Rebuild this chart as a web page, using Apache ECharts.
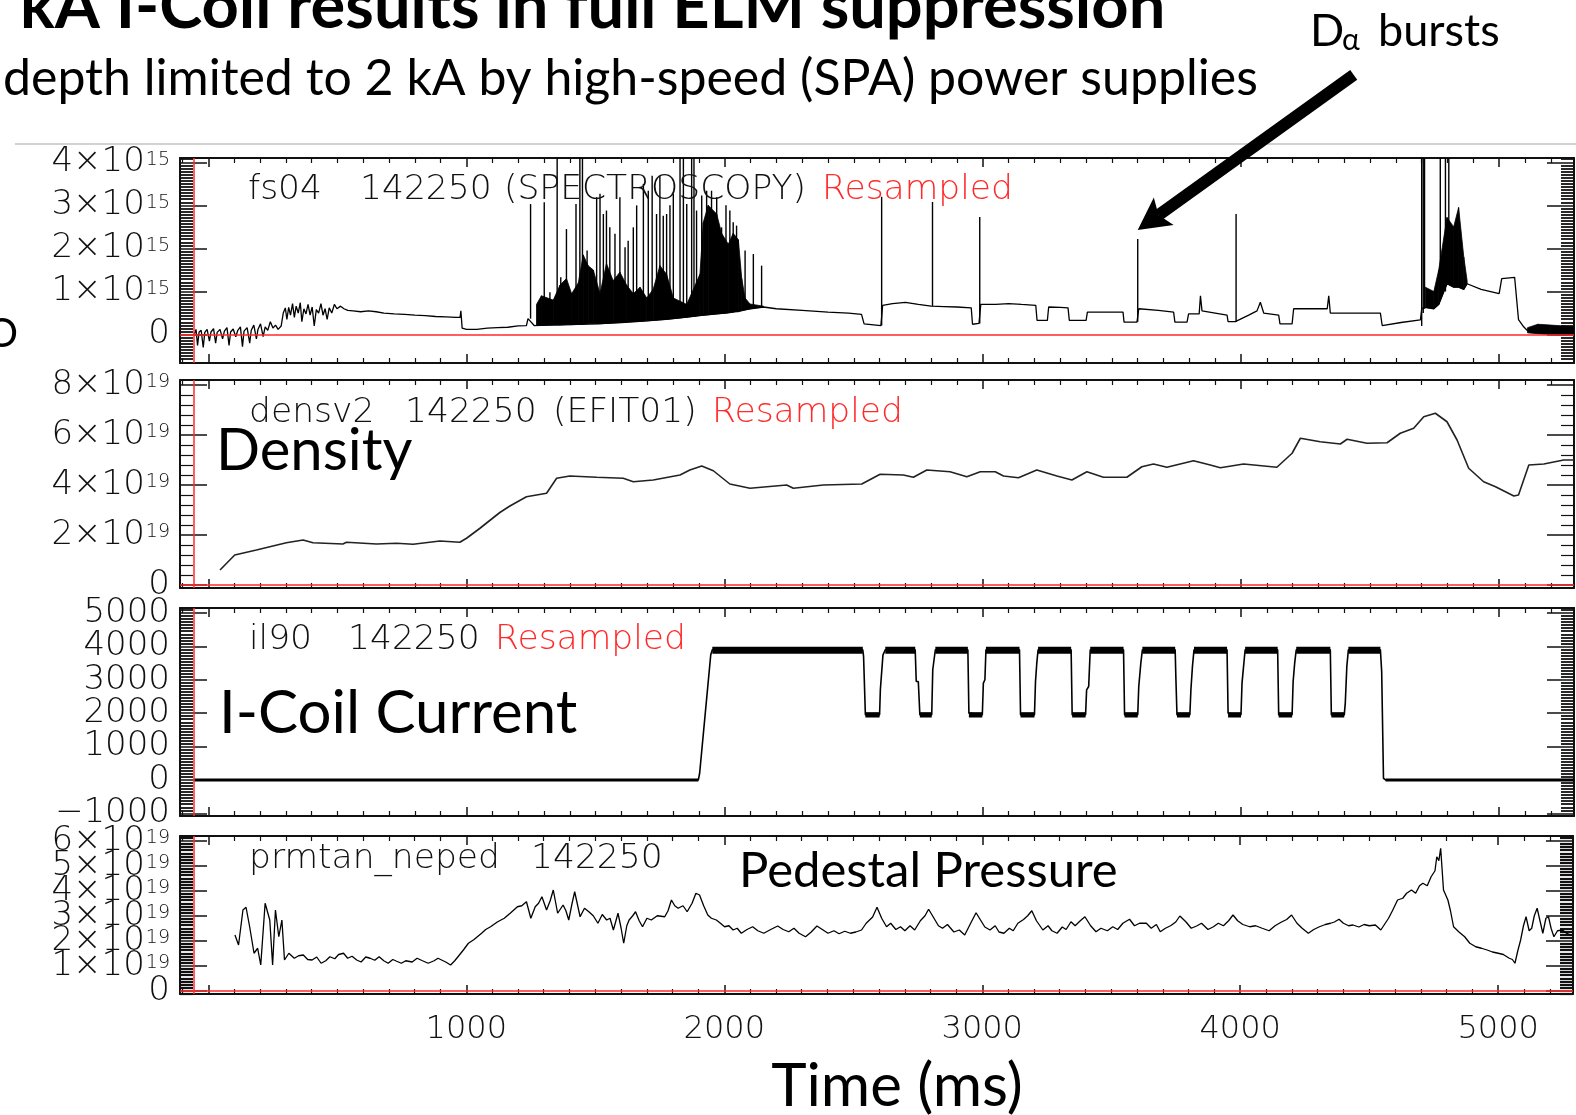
<!DOCTYPE html>
<html><head><meta charset="utf-8">
<script src="https://cdn.jsdelivr.net/npm/echarts@6/dist/echarts.min.js"></script>
<style>html,body{margin:0;padding:0;background:#fff}#c{width:1576px;height:1115px}</style>
</head><body><div id="c"></div><script>
// ---------------- DATA ----------------
const timeTicks = [1000, 2000, 3000, 4000, 5000];
const markerTime = -55;               // red vertical reference line
const arrowTarget = [3600, 2.22];     // D-alpha burst the arrow points to

// fs04 (D-alpha), units of 1e15
const daTicks = [0, 1, 2, 3, 4];
const daExp = 15;
const daTrace = [[-55,0.0],[-48,0.12],[-42,-0.25],[-36,0.06],[-28,0.1],[-20,-0.3],[-14,0.05],[-5,0.12],[4,-0.15],[10,0.06],[20,0.14],[28,-0.2],[34,0.05],[45,0.12],[55,-0.1],[62,0.08],[72,0.16],[80,-0.25],[86,0.06],[96,0.13],[106,-0.05],[114,0.1],[124,0.18],[132,-0.28],[138,0.08],[150,0.16],[160,-0.2],[166,0.1],[176,0.22],[186,-0.1],[192,0.12],[202,0.25],[212,-0.05],[220,0.18],[230,0.1],[240,0.3],[250,0.15],[260,0.22],[270,0.12],[282,0.2],[290,0.5],[298,0.62],[304,0.35],[311,0.63],[318,0.45],[326,0.72],[333,0.4],[340,0.66],[348,0.5],[356,0.74],[362,0.3],[370,0.6],[378,0.48],[386,0.7],[394,0.45],[402,0.64],[410,0.2],[418,0.58],[427,0.5],[436,0.72],[444,0.45],[452,0.6],[460,0.35],[468,0.62],[478,0.5],[488,0.7],[498,0.6],[512,0.66],[525,0.6],[540,0.56],[560,0.55],[590,0.53],[620,0.55],[650,0.53],[680,0.5],[720,0.48],[760,0.47],[800,0.45],[840,0.44],[880,0.42],[920,0.41],[960,0.4],[975,0.4],[978,0.55],[983,0.15],[1000,0.12],[1040,0.12],[1080,0.15],[1120,0.16],[1160,0.17],[1200,0.2],[1232,0.21],[1238,0.37],[1262,0.21],[1300,0.22],[1400,0.23],[1500,0.25],[1600,0.28],[1700,0.32],[1800,0.37],[1900,0.44],[2000,0.5],[2100,0.6],[2150,0.64],[2200,0.6],[2300,0.56],[2400,0.52],[2480,0.5],[2530,0.47],[2540,0.25],[2545,0.21],[2605,0.21],[2612,0.68],[2650,0.72],[2700,0.75],[2750,0.7],[2800,0.66],[2850,0.65],[2900,0.64],[2955,0.62],[2960,0.24],[2985,0.26],[2992,0.7],[3050,0.7],[3100,0.72],[3150,0.7],[3205,0.68],[3210,0.33],[3250,0.33],[3255,0.64],[3300,0.63],[3330,0.62],[3335,0.33],[3400,0.33],[3405,0.52],[3455,0.52],[3543,0.52],[3547,0.29],[3597,0.29],[3604,0.6],[3680,0.56],[3739,0.52],[3744,0.29],[3791,0.29],[3797,0.48],[3838,0.48],[3843,0.9],[3849,0.55],[3900,0.5],[3946,0.45],[3950,0.3],[3978,0.3],[3985,0.33],[4030,0.45],[4062,0.55],[4075,0.75],[4088,0.5],[4146,0.45],[4151,0.25],[4198,0.25],[4204,0.6],[4334,0.6],[4340,0.9],[4346,0.5],[4540,0.5],[4547,0.21],[4620,0.28],[4695,0.34],[4700,0.6],[4714,0.63],[4747,0.6],[4766,0.7],[4798,1.18],[4824,1.1],[4843,1.1],[4863,1.05],[4876,1.18],[4930,1.05],[5000,0.95],[5010,1.3],[5060,1.33],[5075,0.35],[5095,0.18],[5110,0.09],[5200,0.08],[5290,0.08]];
// individual bursts: [time, base, top]
const daSpikes = [[1248,0.37,3.03],[1301,0.22,3.07],[1323,0.22,0.98],[1351,0.22,4.5],[1365,0.22,1.33],[1387,0.23,2.45],[1411,0.23,0.95],[1424,0.24,3.03],[1439,0.24,4.5],[1449,0.24,4.5],[1467,0.25,1.95],[1504,0.25,3.19],[1517,0.25,3.27],[1530,0.26,2.8],[1542,0.26,2.88],[1555,0.27,2.49],[1575,0.27,2.34],[1594,0.28,3.19],[1614,0.29,2.03],[1626,0.29,2.18],[1646,0.3,2.49],[1659,0.3,3.0],[1685,0.31,3.5],[1704,0.32,3.34],[1719,0.33,3.69],[1736,0.33,2.8],[1749,0.34,3.69],[1762,0.35,2.76],[1775,0.35,2.8],[1788,0.36,3.0],[1801,0.37,3.27],[1827,0.38,4.5],[1840,0.39,4.5],[1853,0.4,3.03],[1872,0.42,4.5],[1881,0.42,4.5],[1891,0.43,2.88],[1911,0.45,3.23],[1930,0.46,3.34],[1949,0.47,3.34],[1969,0.48,3.19],[1988,0.49,2.49],[2005,0.5,3.0],[2020,0.5,2.88],[2033,0.52,2.61],[2046,0.53,2.53],[2079,0.57,1.95],[2111,0.6,1.87],[2143,0.64,1.6],[2608,0.21,3.2],[2805,0.66,3.08],[2988,0.26,2.73],[3600,0.3,2.22],[3981,0.3,2.8],[4700,0.2,4.5],[4706,0.5,4.5],[4711,0.6,4.5],[4772,0.8,4.5],[4792,1.0,4.5],[4805,1.2,4.5]];
// noise envelopes of dense ELM activity: [time, low, high]
const daEnvElm = [[1271,0.21,0.7],[1290,0.21,0.9],[1336,0.22,0.8],[1362,0.22,1.15],[1387,0.23,1.3],[1407,0.23,0.95],[1433,0.24,1.2],[1452,0.24,1.85],[1471,0.25,1.6],[1491,0.25,1.5],[1517,0.25,0.95],[1542,0.26,1.65],[1568,0.27,1.25],[1594,0.28,1.45],[1620,0.29,1.15],[1646,0.3,0.95],[1672,0.31,1.1],[1698,0.32,0.85],[1723,0.33,1.05],[1749,0.34,1.6],[1775,0.35,1.4],[1801,0.37,0.85],[1853,0.4,0.7],[1904,0.44,1.4],[1917,0.45,2.6],[1936,0.46,3.0],[1969,0.48,2.8],[1988,0.49,2.35],[2014,0.5,2.1],[2033,0.52,2.35],[2053,0.53,2.2],[2066,0.55,1.3],[2079,0.57,0.85],[2098,0.6,0.71],[2150,0.64,0.66]];
const daEnvLate = [[4714,0.63,1.1],[4747,0.6,1.0],[4766,0.7,1.5],[4798,1.18,2.72],[4824,1.1,2.5],[4843,1.1,2.95],[4863,1.05,1.8],[4876,1.18,1.25]];
const daEnvTail = [[5110,0.04,0.16],[5150,0.02,0.24],[5200,0.0,0.22],[5250,-0.02,0.2],[5290,0.0,0.18]];

// densv2, units of 1e19
const densTicks = [0, 2, 4, 6, 8];
const densExp = 19;
const densTrace = [[45,0.6],[102,1.2],[186,1.4],[302,1.69],[367,1.8],[405,1.69],[521,1.64],[535,1.71],[651,1.64],[729,1.67],[793,1.63],[897,1.76],[974,1.71],[1000,1.87],[1052,2.27],[1129,2.9],[1168,3.16],[1232,3.53],[1310,3.67],[1349,4.27],[1400,4.36],[1504,4.31],[1607,4.27],[1646,4.13],[1723,4.2],[1827,4.4],[1865,4.6],[1911,4.76],[1956,4.57],[2020,4.04],[2098,3.87],[2240,4.0],[2266,3.87],[2382,4.0],[2531,4.04],[2602,4.43],[2692,4.4],[2731,4.31],[2783,4.6],[2873,4.53],[2938,4.33],[2990,4.53],[3048,4.53],[3080,4.36],[3138,4.29],[3209,4.6],[3287,4.36],[3345,4.2],[3403,4.53],[3467,4.31],[3558,4.31],[3616,4.73],[3661,4.84],[3713,4.71],[3816,4.97],[3881,4.8],[3920,4.69],[4010,4.84],[4139,4.71],[4198,5.27],[4230,5.87],[4307,5.73],[4385,5.64],[4411,5.83],[4488,5.67],[4566,5.69],[4617,6.07],[4669,6.27],[4708,6.73],[4753,6.87],[4798,6.53],[4837,5.8],[4882,4.67],[4940,4.13],[4986,3.93],[5057,3.56],[5075,3.6],[5115,4.8],[5173,4.84],[5250,5.0],[5290,5.0]];

// il90 I-coil current (A)
const icoilTicks = [-1000, 0, 1000, 2000, 3000, 4000, 5000];
const icoilTrace = [[-55,0],[1898,0],[1903,200],[1946,3750],[1952,3900],[2535,3900],[2538,3700],[2545,1950],[2600,1950],[2603,2700],[2610,2700],[2613,3740],[2622,3900],[2738,3900],[2742,2950],[2750,2950],[2756,1950],[2802,1950],[2806,3300],[2812,3300],[2816,3900],[2942,3900],[2946,2000],[2998,1950],[3002,2900],[3008,3000],[3012,3900],[3142,3900],[3146,1950],[3200,1950],[3204,2950],[3209,3500],[3214,3900],[3342,3900],[3346,1950],[3398,1950],[3402,2700],[3410,2800],[3416,3900],[3545,3900],[3549,1950],[3600,1950],[3604,2800],[3612,3500],[3618,3900],[3745,3900],[3748,3000],[3752,1950],[3802,1950],[3806,2700],[3812,3400],[3818,3900],[3946,3900],[3950,2000],[4000,1950],[4004,2900],[4010,3400],[4016,3900],[4142,3900],[4146,1950],[4198,1950],[4202,2950],[4208,3500],[4214,3900],[4346,3900],[4350,1950],[4400,1950],[4404,2300],[4410,3400],[4416,3900],[4540,3900],[4545,3250],[4552,50],[4560,0],[5290,0]];
// noise band of flat parts: [start, end, low, high]
const icoilBand = [[-55,1898,-45,45],[1952,2535,3780,3990],[2545,2600,1870,2030],[2622,2738,3780,3990],[2756,2802,1870,2030],[2816,2942,3780,3990],[2946,2998,1870,2030],[3012,3142,3780,3990],[3146,3200,1870,2030],[3214,3342,3780,3990],[3346,3398,1870,2030],[3416,3545,3780,3990],[3549,3600,1870,2030],[3618,3745,3780,3990],[3752,3802,1870,2030],[3818,3946,3780,3990],[3950,4000,1870,2030],[4016,4142,3780,3990],[4146,4198,1870,2030],[4214,4346,3780,3990],[4350,4400,1870,2030],[4416,4540,3780,3990],[4560,5290,-45,45]];

// prmtan_neped, units of 1e19
const pedTicks = [0, 1, 2, 3, 4, 5, 6];
const pedExp = 19;
const pedTrace = [[103,2.23],[117,1.83],[134,3.23],[146,3.34],[160,2.56],[177,1.5],[191,1.7],[203,1.03],[220,3.5],[238,2.83],[249,1.03],[260,3.23],[273,2.16],[285,2.83],[295,1.23],[312,1.5],[333,1.3],[350,1.4],[368,1.43],[385,1.25],[402,1.23],[420,1.35],[437,1.1],[455,1.2],[471,1.36],[490,1.28],[505,1.45],[524,1.5],[540,1.3],[557,1.38],[575,1.23],[592,1.15],[610,1.35],[627,1.3],[645,1.22],[662,1.36],[680,1.2],[697,1.1],[715,1.25],[730,1.18],[748,1.1],[765,1.2],[790,1.15],[809,1.3],[830,1.2],[852,1.1],[875,1.2],[890,1.3],[904,1.23],[920,1.15],[939,1.03],[955,1.2],[973,1.43],[990,1.65],[1008,1.9],[1030,2.05],[1059,2.3],[1075,2.45],[1094,2.56],[1120,2.75],[1147,2.9],[1170,3.1],[1198,3.36],[1215,3.4],[1233,3.56],[1250,2.9],[1267,3.36],[1280,3.5],[1293,3.76],[1311,3.23],[1325,3.6],[1337,4.03],[1354,3.1],[1375,3.43],[1386,3.2],[1397,2.83],[1410,3.5],[1420,3.96],[1441,2.96],[1458,3.3],[1475,3.16],[1492,3.0],[1510,2.7],[1527,3.05],[1544,2.83],[1557,2.9],[1570,2.43],[1588,3.1],[1600,2.5],[1610,1.9],[1622,2.6],[1631,2.83],[1645,3.0],[1656,3.16],[1670,2.8],[1683,2.56],[1700,2.9],[1717,2.83],[1740,3.0],[1769,2.96],[1782,3.2],[1795,3.63],[1808,3.4],[1821,3.3],[1840,3.4],[1856,3.16],[1875,3.5],[1890,3.9],[1904,3.83],[1920,3.4],[1936,3.03],[1950,2.9],[1969,2.83],[1985,2.7],[2001,2.56],[2018,2.6],[2034,2.43],[2050,2.5],[2066,2.3],[2088,2.45],[2110,2.56],[2130,2.4],[2153,2.3],[2180,2.45],[2207,2.59],[2228,2.45],[2250,2.36],[2270,2.5],[2290,2.3],[2315,2.16],[2337,2.35],[2359,2.59],[2380,2.45],[2402,2.3],[2425,2.4],[2445,2.28],[2467,2.38],[2489,2.3],[2510,2.35],[2532,2.43],[2550,2.7],[2575,2.95],[2592,3.34],[2610,2.9],[2629,2.56],[2645,2.7],[2665,2.45],[2683,2.56],[2700,2.4],[2720,2.6],[2738,2.43],[2760,2.8],[2778,3.0],[2792,3.26],[2810,2.95],[2830,2.6],[2846,2.5],[2865,2.65],[2890,2.35],[2911,2.43],[2932,2.23],[2955,2.7],[2976,3.12],[2995,2.8],[3010,2.55],[3030,2.43],[3050,2.6],[3065,2.35],[3084,2.3],[3105,2.5],[3120,2.4],[3138,2.7],[3160,2.85],[3176,3.0],[3192,3.2],[3210,2.8],[3235,2.43],[3255,2.6],[3270,2.4],[3290,2.3],[3310,2.55],[3325,2.45],[3344,2.76],[3360,2.6],[3380,2.8],[3398,2.96],[3420,2.6],[3441,2.36],[3460,2.5],[3485,2.4],[3506,2.56],[3525,2.45],[3545,2.7],[3571,2.86],[3590,2.6],[3610,2.7],[3636,2.7],[3655,2.5],[3675,2.65],[3690,2.36],[3710,2.5],[3730,2.6],[3750,2.75],[3766,2.99],[3790,2.75],[3810,2.5],[3831,2.59],[3850,2.7],[3875,2.45],[3896,2.56],[3915,2.7],[3935,2.6],[3955,2.8],[3972,3.03],[3990,2.8],[4010,2.65],[4037,2.56],[4060,2.6],[4085,2.5],[4112,2.4],[4135,2.6],[4160,2.75],[4180,2.85],[4199,3.03],[4220,2.7],[4240,2.5],[4264,2.3],[4285,2.45],[4307,2.56],[4330,2.65],[4350,2.7],[4365,2.75],[4383,2.86],[4400,2.7],[4420,2.6],[4437,2.63],[4460,2.55],[4480,2.65],[4500,2.6],[4524,2.63],[4545,2.43],[4575,2.9],[4590,3.2],[4610,3.63],[4630,3.7],[4645,3.9],[4664,4.03],[4680,3.9],[4695,4.2],[4708,4.3],[4725,4.2],[4740,4.56],[4755,4.8],[4762,5.36],[4770,5.2],[4777,5.7],[4788,4.03],[4805,3.63],[4815,3.2],[4827,2.56],[4848,2.35],[4870,2.16],[4890,1.9],[4913,1.76],[4935,1.7],[4957,1.63],[4978,1.55],[5000,1.5],[5020,1.45],[5043,1.3],[5055,1.25],[5065,1.1],[5076,1.6],[5087,2.03],[5098,2.6],[5108,2.96],[5120,2.4],[5130,2.5],[5140,3.0],[5151,3.3],[5162,2.8],[5173,2.3],[5185,2.9],[5195,2.96],[5205,2.5],[5216,2.16],[5230,2.4],[5249,2.43],[5265,2.3],[5282,2.23]];

// ---------------- LAYOUT / STYLE ----------------
const IDL_FONT = 'DejaVu Sans';
const SLIDE_FONT = 'Lato';
const RED = '#ff2a2a';
const INK = '#111';
const X_MIN = -110, X_MAX = 5290;
const grids = [
  {left:180, right:2, top:158, height:205},
  {left:180, right:2, top:380, height:208},
  {left:180, right:2, top:608, height:208},
  {left:180, right:2, top:836, height:158}
];
const yRanges = [[-0.66,4.1],[-0.12,8.2],[-1080,5150],[-0.13,6.19]];
const ySplit = [5,4,6,6];
const yMinorSplit = [14,5,11,8];
const yMinorWidth = [1.8,1.2,1.8,2.2];

const richLbl = {
  m:{fontFamily:IDL_FONT, fontSize:34, lineHeight:24, color:INK, fontWeight:200},
  s:{fontFamily:IDL_FONT, fontSize:19, lineHeight:1, verticalAlign:'top', color:INK, fontWeight:200, padding:[0,0,0,1]}
};
function expFormatter(ticks, exp){
  return v => {
    if (!ticks.some(t => Math.abs(t - v) < 1e-9)) return '';
    if (Math.abs(v) < 1e-9) return '{m|0}';
    return '{m|' + Math.round(v) + '×10}{s|' + exp + '}';
  };
}
const yFormatters = [
  expFormatter(daTicks, daExp),
  expFormatter(densTicks, densExp),
  v => icoilTicks.includes(Math.round(v)) && Math.abs(v-Math.round(v))<1e-6 ? '{m|' + (v<0 ? '\u2212' + Math.abs(v) : v) + '}' : '',
  expFormatter(pedTicks, pedExp)
];

const xAxes = [], yAxes = [];
grids.forEach((g, i) => {
  ['bottom','top'].forEach(pos => {
    const showLbl = (i === 3 && pos === 'bottom');
    xAxes.push({
      type:'value', gridIndex:i, position:pos, min:X_MIN, max:X_MAX, splitNumber:5,
      axisLine:{show:true, onZero:false, lineStyle:{color:INK, width:2}},
      axisTick:{show:true, inside:true, length:9, lineStyle:{color:INK, width:1.5}},
      minorTick:{show:true, splitNumber:10, length:5, lineStyle:{color:INK, width:1.2}},
      splitLine:{show:false},
      axisLabel:{show:showLbl, margin:20, fontFamily:IDL_FONT, fontSize:32, fontWeight:200, color:INK,
        formatter: v => timeTicks.includes(v) ? String(v) : ''}
    });
  });
  ['left','right'].forEach(pos => {
    yAxes.push({
      type:'value', gridIndex:i, position:pos, min:yRanges[i][0], max:yRanges[i][1], splitNumber:ySplit[i],
      axisLine:{show:true, onZero:false, lineStyle:{color:INK, width:2}},
      axisTick:{show:true, inside:true, length:27, lineStyle:{color:INK, width:1.5}},
      minorTick:{show:true, splitNumber:yMinorSplit[i], length:13, lineStyle:{color:INK, width:yMinorWidth[i]}},
      splitLine:{show:false},
      axisLabel:{show:pos === 'left', margin:10, formatter:yFormatters[i], rich:richLbl}
    });
  });
});

function redLines(withZero){
  const d = [{xAxis:markerTime}];
  if (withZero) d.push({yAxis:0});
  return {silent:true, symbol:['none','none'], label:{show:false}, animation:false,
    lineStyle:{color:RED, width:1.5, type:'solid'}, emphasis:{disabled:true}, data:d};
}
function lineSeries(idx, data, width, color, zero){
  return {type:'line', xAxisIndex:2*idx, yAxisIndex:2*idx, data, showSymbol:false, symbol:'none',
    sampling:null, animation:false, z:3, lineStyle:{color, width}, markLine:redLines(zero), silent:true};
}
function envelopeSeries(rows){
  return {type:'custom', xAxisIndex:0, yAxisIndex:0, clip:true, silent:true, animation:false, z:2,
    data:rows, encode:{x:0, y:[1,2]},
    renderItem(params, api){
      const i = params.dataIndex, a = rows[i], b = rows[i+1];
      if (!b) return null;
      const pts = [api.coord([a[0],a[1]]), api.coord([a[0],a[2]]), api.coord([b[0],b[2]]), api.coord([b[0],b[1]])];
      return {type:'polygon', shape:{points:pts}, style:{fill:'#000', stroke:'#000', lineWidth:0.8}};
    }};
}

const series = [
  lineSeries(0, daTrace, 1.3, '#000', true),
  envelopeSeries(daEnvElm),
  envelopeSeries(daEnvLate),
  envelopeSeries(daEnvTail),
  {type:'custom', xAxisIndex:0, yAxisIndex:0, clip:true, silent:true, animation:false, z:3,
    data:daSpikes, encode:{x:0, y:[1,2]},
    renderItem(params, api){
      const p0 = api.coord([api.value(0), api.value(1)]), p1 = api.coord([api.value(0), api.value(2)]);
      return {type:'line', shape:{x1:p0[0], y1:p0[1], x2:p1[0], y2:p1[1]}, style:{stroke:'#000', lineWidth:1.4}};
    }},
  lineSeries(1, densTrace, 1.6, '#222', true),
  lineSeries(2, icoilTrace, 1.6, '#000', false),
  {type:'custom', xAxisIndex:4, yAxisIndex:4, clip:true, silent:true, animation:false, z:2,
    data:icoilBand, encode:{x:[0,1], y:[2,3]},
    renderItem(params, api){
      const p0 = api.coord([api.value(0), api.value(3)]), p1 = api.coord([api.value(1), api.value(2)]);
      return {type:'rect', shape:{x:p0[0], y:p0[1], width:p1[0]-p0[0], height:p1[1]-p0[1]}, style:{fill:'#000'}};
    }},
  lineSeries(3, pedTrace, 1.3, '#000', true)
];

const chart = echarts.init(document.getElementById('c'), null, {renderer:'canvas'});
chart.setOption({
  backgroundColor:'#fff', animation:false,
  grid: grids.map(g => Object.assign({containLabel:false}, g)),
  xAxis:xAxes, yAxis:yAxes, series
});

// ---------------- ANNOTATIONS ----------------
function txt(text, x, y, size, opts){
  return Object.assign({type:'text', x, y, silent:true, z:10, style:Object.assign({
    text, fontSize:size, fontFamily:SLIDE_FONT, fill:'#000', align:'left', verticalAlign:'middle'}, opts && opts.style)},
    opts && opts.el);
}
function idl(text, x, y, color){
  return txt(text, x, y, 34.5, {style:{fontFamily:IDL_FONT, fontWeight:200, fill:color || INK}});
}
const tip = chart.convertToPixel({xAxisIndex:0, yAxisIndex:0}, arrowTarget);
tip[1] -= 9;
const ux = 0.812, uy = -0.583, px = -uy, py = ux;
const headLen = 32, headHalf = 17;
const baseX = tip[0] + ux*headLen, baseY = tip[1] + uy*headLen;
const notchX = tip[0] + ux*headLen*0.8, notchY = tip[1] + uy*headLen*0.8;
const tailX = tip[0] + ux*266, tailY = tip[1] + uy*266;

chart.setOption({graphic:{elements:[
  {type:'line', silent:true, shape:{x1:15, y1:144, x2:1576, y2:144}, style:{stroke:'#d2d2d2', lineWidth:2}},
  txt('kA I-Coil results in full ELM suppression', 20, 7, 65, {style:{fontWeight:'bold'}}),
  txt('depth limited to 2 kA by high-speed (SPA) power supplies', 3, 79, 50),
  txt('D', 1310, 31, 45),
  txt('α', 1342, 40, 30),
  txt('bursts', 1378, 31, 45),
  txt('O', -14, 334, 40),
  {type:'line', silent:true, z:11, shape:{x1:tailX, y1:tailY, x2:notchX, y2:notchY}, style:{stroke:'#000', lineWidth:12}},
  {type:'polygon', silent:true, z:11, shape:{points:[[tip[0],tip[1]],[baseX+px*headHalf, baseY+py*headHalf],[notchX,notchY],[baseX-px*headHalf, baseY-py*headHalf]]}, style:{fill:'#000'}},
  idl('fs04', 248, 190), idl('142250', 360, 190), idl('(SPECTROSCOPY)', 504, 190), idl('Resampled', 822, 190, RED),
  idl('densv2', 249, 413), idl('142250', 405, 413), idl('(EFIT01)', 553, 413), idl('Resampled', 712, 413, RED),
  idl('il90', 249, 640), idl('142250', 348, 640), idl('Resampled', 495, 640, RED),
  idl('prmtan_neped', 249, 859), idl('142250', 531, 859),
  txt('Density', 216, 451, 58),
  txt('I-Coil Current', 219, 714, 60),
  txt('Pedestal Pressure', 739, 871, 49),
  txt('Time (ms)', 897, 1087, 60, {style:{align:'center'}})
]}});
</script></body></html>
